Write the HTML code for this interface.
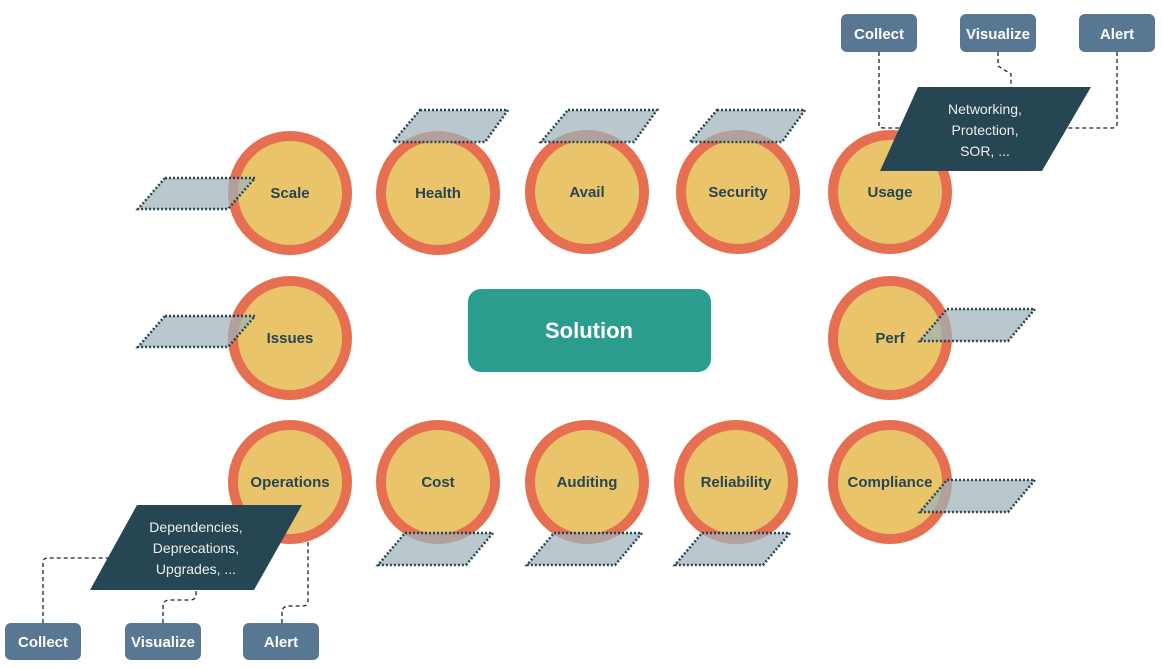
<!DOCTYPE html>
<html><head><meta charset="utf-8"><style>
html,body{margin:0;padding:0;background:#fff;}
svg{display:block;font-family:"Liberation Sans",sans-serif;}
.c{fill:#e9c46a;stroke:#e76f51;stroke-width:10;}
.t{font-weight:bold;font-size:15px;fill:#264653;text-anchor:middle;}
.p{fill:rgba(160,178,185,0.72);stroke:#264653;stroke-width:2.5;stroke-dasharray:2 2;}
.b{fill:#587792;}
.bt{fill:#fff;font-weight:bold;font-size:15px;text-anchor:middle;}
.d{fill:none;stroke:#222;stroke-width:1.3;stroke-dasharray:4 3;}
.w{fill:#eee;font-size:14px;text-anchor:middle;}
</style></head><body>
<svg width="1163" height="668" viewBox="0 0 1163 668">
<!-- dashed connectors -->
<path class="d" d="M879 52 V126 Q879 128 885 128 H905"/>
<path class="d" d="M998 52 V66 L1011 74 V87"/>
<path class="d" d="M1117 52 V124 Q1117 128 1112 128 H1068"/>
<path class="d" d="M43 623 V562 Q43 558 48 558 H112"/>
<path class="d" d="M163 623 V606 Q163 600 170 600 H190 Q196 600 196 594 V590"/>
<path class="d" d="M282 623 V612 Q282 606 290 606 H303 Q308 606 308 600 V540 Q308 535 302 535 H285"/>
<!-- circles -->
<g>
<circle class="c" cx="290" cy="193" r="57"/><circle class="c" cx="438" cy="193" r="57"/>
<circle class="c" cx="587" cy="192" r="57"/><circle class="c" cx="738" cy="192" r="57"/>
<circle class="c" cx="890" cy="192" r="57"/>
<circle class="c" cx="290" cy="338" r="57"/><circle class="c" cx="890" cy="338" r="57"/>
<circle class="c" cx="290" cy="482" r="57"/><circle class="c" cx="438" cy="482" r="57"/>
<circle class="c" cx="587" cy="482" r="57"/><circle class="c" cx="736" cy="482" r="57"/>
<circle class="c" cx="890" cy="482" r="57"/>
</g>
<!-- light parallelograms -->
<polygon class="p" points="165,178 255,178 228,209 138,209"/>
<polygon class="p" points="165,316 255,316 228,347 138,347"/>
<polygon class="p" points="420,110 508,110 485,142 393,142"/>
<polygon class="p" points="568,110 657,110 634,142 541,142"/>
<polygon class="p" points="717,110 805,110 782,142 690,142"/>
<polygon class="p" points="947,309 1035,309 1008,341 920,341"/>
<polygon class="p" points="947,480 1035,480 1008,512 920,512"/>
<polygon class="p" points="405,533 493,533 466,565 378,565"/>
<polygon class="p" points="554,533 642,533 615,565 527,565"/>
<polygon class="p" points="702,533 790,533 763,565 675,565"/>
<!-- labels -->
<text class="t" x="290" y="198">Scale</text><text class="t" x="438" y="198">Health</text>
<text class="t" x="587" y="197">Avail</text><text class="t" x="738" y="197">Security</text>
<text class="t" x="890" y="197">Usage</text>
<text class="t" x="290" y="343">Issues</text><text class="t" x="890" y="343">Perf</text>
<text class="t" x="290" y="487">Operations</text><text class="t" x="438" y="487">Cost</text>
<text class="t" x="587" y="487">Auditing</text><text class="t" x="736" y="487">Reliability</text>
<text class="t" x="890" y="487">Compliance</text>
<!-- solution -->
<rect x="468" y="289" width="243" height="83" rx="13" fill="#2a9d8f"/>
<text x="589" y="338" fill="#fff" font-weight="bold" font-size="22" text-anchor="middle">Solution</text>
<!-- dark parallelograms -->
<polygon fill="#264653" points="918,87 1091,87 1042,171 880,171"/>
<text class="w" x="985" y="114">Networking,</text>
<text class="w" x="985" y="135">Protection,</text>
<text class="w" x="985" y="156">SOR, ...</text>
<polygon fill="#264653" points="137,505 302,505 254,590 90,590"/>
<text class="w" x="196" y="532">Dependencies,</text>
<text class="w" x="196" y="553">Deprecations,</text>
<text class="w" x="196" y="574">Upgrades, ...</text>
<!-- buttons -->
<rect class="b" x="841" y="14" width="76" height="38" rx="6"/><text class="bt" x="879" y="39">Collect</text>
<rect class="b" x="960" y="14" width="76" height="38" rx="6"/><text class="bt" x="998" y="39">Visualize</text>
<rect class="b" x="1079" y="14" width="76" height="38" rx="6"/><text class="bt" x="1117" y="39">Alert</text>
<rect class="b" x="5" y="623" width="76" height="37" rx="6"/><text class="bt" x="43" y="647">Collect</text>
<rect class="b" x="125" y="623" width="76" height="37" rx="6"/><text class="bt" x="163" y="647">Visualize</text>
<rect class="b" x="243" y="623" width="76" height="37" rx="6"/><text class="bt" x="281" y="647">Alert</text>
</svg>
</body></html>
